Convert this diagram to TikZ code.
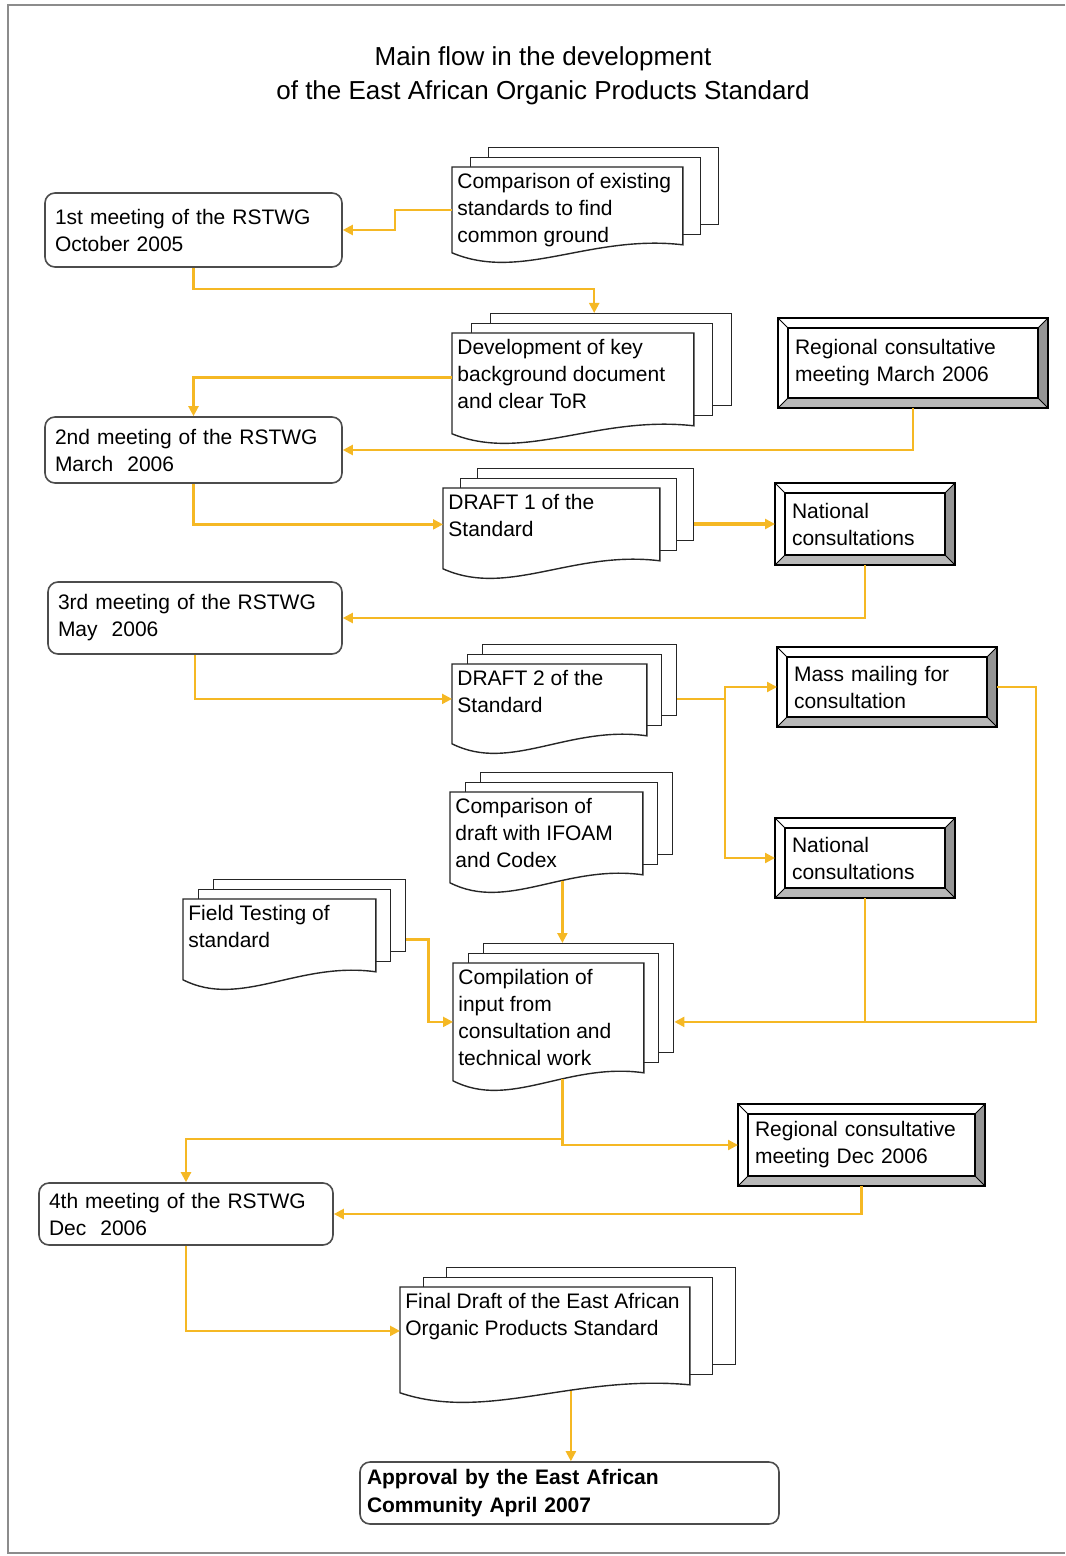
\documentclass[tikz,border=0pt]{standalone}
\usepackage{fontspec}
\setmainfont{Liberation Sans}
\usetikzlibrary{arrows.meta}
\definecolor{flowline}{RGB}{245,184,36}
\tikzset{
 flow/.style={draw=flowline,line width=1.1pt,-{Triangle[length=5pt,width=5pt]}},
 page/.style={draw=black!85,fill=white,line width=0.7pt},
 meeting/.style={draw=black!70,rounded corners=5pt,line width=0.8pt,align=left,inner xsep=5pt,font=\fontsize{10.5}{13.5}\selectfont},
 bevelbox/.style={outer sep=0pt,align=left,inner xsep=8.5pt,font=\fontsize{10.5}{13.5}\selectfont},
 doctext/.style={align=left,inner xsep=2.5pt,inner ysep=3pt,font=\fontsize{10.5}{13.5}\selectfont}
}
\newcommand\stackdoc[7][18]{%
 \node[page,anchor=north west,minimum width=#5*0.5pt,minimum height=(#6-8)*0.5pt] (#2-back) at ({#3+2*#1},{#4-20}) {};
 \node[page,anchor=north west,minimum width=#5*0.5pt,minimum height=(#6-8)*0.5pt] (#2-mid) at ({#3+#1},{#4-10}) {};
 \node[anchor=north west,inner sep=0pt,minimum width=#5*0.5pt,minimum height=#6*0.5pt] (#2) at (#3,#4) {};
 \draw[page] (#2.north west)--(#2.north east)--([yshift=4pt]#2.south east)
   .. controls ({#3+0.6*#5},{#4+#6-18}) and ({#3+0.3*#5},{#4+#6+30}) .. (#2.south west)--cycle;
 \node[doctext,anchor=north west] (#2-txt) at (#2.north west) {#7};
}
\newcommand\bevel[1]{%
 \fill[black!42] (#1.north east)--([shift={(-5pt,-5pt)}]#1.north east)--([shift={(-5pt,5pt)}]#1.south east)--(#1.south east)--cycle;
 \fill[black!28] (#1.south west)--([shift={(5pt,5pt)}]#1.south west)--([shift={(-5pt,5pt)}]#1.south east)--(#1.south east)--cycle;
 \draw[line width=0.6pt] ([shift={(5pt,-5pt)}]#1.north west) rectangle ([shift={(-5pt,5pt)}]#1.south east);
 \draw[line width=0.5pt] (#1.north west)--([shift={(5pt,-5pt)}]#1.north west);
 \draw[line width=0.5pt] (#1.north east)--([shift={(-5pt,-5pt)}]#1.north east);
 \draw[line width=0.5pt] (#1.south west)--([shift={(5pt,5pt)}]#1.south west);
 \draw[line width=0.5pt] (#1.south east)--([shift={(-5pt,5pt)}]#1.south east);
 \draw[line width=1.1pt] (#1.north west) rectangle (#1.south east);
}
\begin{document}
\begin{tikzpicture}[x=0.5pt,y=-0.5pt]
 \useasboundingbox (0,0) rectangle (1065,1556);
 \draw[black!45,line width=1pt](1065,5)--(8,5)--(8,1553)--(1065,1553);
 \node[font=\fontsize{13}{17}\selectfont,align=center] (title) at (543,76) {Main flow in the development\\of the East African Organic Products Standard};

 \node[meeting,minimum width=148.5pt,minimum height=37pt,text width=138.5pt] (rstwgA) at (193.5,230) {1st meeting of the RSTWG\\October 2005};
 \node[meeting,minimum width=148.5pt,minimum height=33pt,text width=138.5pt] (rstwgB) at (193.5,450) {2nd meeting of the RSTWG\\March~ 2006};
 \node[meeting,minimum width=147pt,minimum height=36pt,text width=137pt] (rstwgC) at (195,618) {3rd meeting of the RSTWG\\May~ 2006};
 \node[meeting,minimum width=147pt,minimum height=31pt,text width=137pt] (rstwgD) at (186,1214) {4th meeting of the RSTWG\\Dec~ 2006};
 \node[meeting,minimum width=209.5pt,minimum height=31pt,text width=202.5pt,inner xsep=3.5pt,font=\fontsize{10.5}{14}\selectfont\bfseries] (approval) at (569.5,1493) {Approval by the East African\\Community April 2007};

 \stackdoc{cmpStd}{452}{167}{230}{85}{Comparison of existing\\standards to find\\common ground}
 \stackdoc[19]{keyDoc}{452}{333}{241}{100}{Development of key\\background document\\and clear ToR}
 \stackdoc[17]{draftA}{443}{488}{216}{80}{DRAFT 1 of the\\Standard}
 \stackdoc[15]{draftB}{452}{664}{194}{79}{DRAFT 2 of the\\Standard}
 \stackdoc[15]{cmpCodex}{450}{792}{192}{90}{Comparison of\\draft with IFOAM\\and Codex}
 \stackdoc[15]{fieldTest}{183}{899}{192}{80}{Field Testing of\\standard}
 \stackdoc[15]{compile}{453}{963}{190}{117}{Compilation of\\input from\\consultation and\\technical work}
 \stackdoc[23]{finalDraft}{400}{1287}{289}{105}{Final Draft of the East African\\Organic Products Standard}

 \node[bevelbox,minimum width=135pt,minimum height=45pt,text width=118pt] (regMar) at (913,363) {Regional consultative\\meeting March 2006};
 \bevel{regMar}
 \node[bevelbox,minimum width=90pt,minimum height=41pt,text width=73pt] (natA) at (865,524) {National\\consultations};
 \bevel{natA}
 \node[bevelbox,minimum width=110pt,minimum height=40pt,text width=93pt] (mailing) at (887,687) {Mass mailing for\\consultation};
 \bevel{mailing}
 \node[bevelbox,minimum width=90pt,minimum height=40pt,text width=73pt] (natB) at (865,858) {National\\consultations};
 \bevel{natB}
 \node[bevelbox,minimum width=123.5pt,minimum height=41pt,text width=106.5pt] (regDec) at (861.5,1145) {Regional consultative\\meeting Dec 2006};
 \bevel{regDec}

 \draw[flow] (cmpStd.west)--++(-57,0)|-(rstwgA.east);
 \draw[flow] (rstwgA.south)--++(0,21)-|([xshift=-8.5pt]keyDoc-back.north);
 \draw[flow] ([yshift=3pt]keyDoc.west)-|(rstwgB.north);
 \draw[flow] (regMar.south)|-(rstwgB.east);
 \draw[flow] (rstwgB.south)|-([yshift=2pt]draftA.west);
 \draw[flow,line width=1.8pt] (draftA-back.east|-natA.west)--(natA.west);
 \draw[flow] (natA.south)|-(rstwgC.east);
 \draw[flow] (rstwgC.south)|-([yshift=2.5pt]draftB.west);
 \coordinate (split) at (725,699);
 \draw[flowline,line width=1.1pt] (draftB-back.east|-split)--(split);
 \draw[flow] (split)|-(mailing.west);
 \draw[flow] (split)|-(natB.west);
 \draw[flow] (mailing.east)--++(39,0)|-(compile-back.east|-compile.east);
 \draw[flowline,line width=1.1pt] (natB.south)--(natB.south|-compile.east);
 \draw[flow] ([xshift=8pt,yshift=1pt]cmpCodex.south)--([xshift=8pt]cmpCodex.south|-compile-back.north);
 \draw[flow] (fieldTest-back.east|-fieldTest.east)--++(22,0)|-(compile.west);
 \draw[flow] ([xshift=7pt,yshift=1pt]compile.south)|-(regDec.west);
 \draw[flow] ([xshift=7pt,yshift=1pt]compile.south)--++(0,60)-|(rstwgD.north);
 \draw[flow] (regDec.south)|-(rstwgD.east);
 \draw[flow] (rstwgD.south)|-([yshift=4.5pt]finalDraft.west);
 \draw[flow] ([xshift=13pt,yshift=1pt]finalDraft.south)--([xshift=13pt]finalDraft.south|-approval.north);
\end{tikzpicture}
\end{document}
